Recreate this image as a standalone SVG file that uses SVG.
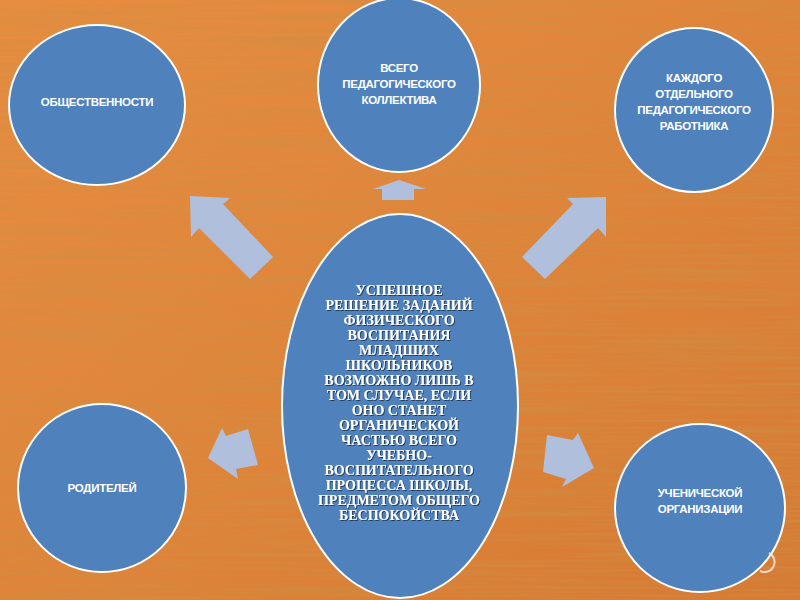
<svg xmlns="http://www.w3.org/2000/svg" width="800" height="600" viewBox="0 0 800 600">
<defs>
<linearGradient id="wood" x1="0" y1="0" x2="1" y2="1">
<stop offset="0" stop-color="#e88d40"/>
<stop offset="0.5" stop-color="#e0843a"/>
<stop offset="1" stop-color="#d67a34"/>
</linearGradient>
<filter id="grain" x="0" y="0" width="100%" height="100%">
<feTurbulence type="fractalNoise" baseFrequency="0.005 0.3" numOctaves="3" seed="4" result="n"/>
<feColorMatrix in="n" type="matrix" values="0 0 0 0 0.6  0 0 0 0 0.28  0 0 0 0 0.06  0 0 0 1.8 -0.7"/>
</filter>
<filter id="ts" x="-10%" y="-10%" width="120%" height="120%">
<feDropShadow dx="1" dy="1" stdDeviation="0.6" flood-color="#1a2a40" flood-opacity="0.8"/>
</filter>
<style>
.node{fill:#4f81bd;stroke:#ffffff;stroke-width:2}
.lbl{font-family:"Liberation Sans",Arial,sans-serif;font-weight:bold;font-size:11.5px;fill:#ffffff;text-anchor:middle;letter-spacing:-0.3px}
.main{font-family:"Liberation Serif","Times New Roman",serif;font-weight:bold;font-size:14px;fill:#ffffff;text-anchor:middle}
.arr{fill:#b0c0dc}
</style>
</defs>
<rect width="800" height="600" fill="url(#wood)"/>
<rect width="800" height="600" filter="url(#grain)" opacity="0.8"/>

<g id="connectors">
<polygon class="arr" points="190,196 230,198 223,204 273,257 250,279 199,228 191,237"/>
<polygon class="arr" points="399,180 373,189 382,189 382,200 414,200 414,189 426,189"/>
<polygon class="arr" points="606,197 567,198 573,204 522,257 545,279 598,228 606,237"/>
<polygon class="arr" points="208,458 222,428 226,436 248,429 258,465 236,469 238,479"/>
<polygon class="arr" points="594,468 578,433 573,440 547,435 543,472 566,479 562,487"/>
</g>

<g id="node-obshchestvennosti">
<ellipse class="node" cx="97" cy="105" rx="88" ry="80"/>
<text class="lbl" x="97" y="106">ОБЩЕСТВЕННОСТИ</text>
</g>

<g id="node-pedkollektiv">
<ellipse class="node" cx="399" cy="85" rx="81" ry="87"/>
<text class="lbl" x="399" y="72">ВСЕГО</text>
<text class="lbl" x="399" y="88">ПЕДАГОГИЧЕСКОГО</text>
<text class="lbl" x="399" y="104">КОЛЛЕКТИВА</text>
</g>

<g id="node-rabotnik">
<ellipse class="node" cx="694" cy="110" rx="79" ry="82"/>
<text class="lbl" x="694" y="82">КАЖДОГО</text>
<text class="lbl" x="694" y="98">ОТДЕЛЬНОГО</text>
<text class="lbl" x="694" y="114">ПЕДАГОГИЧЕСКОГО</text>
<text class="lbl" x="694" y="130">РАБОТНИКА</text>
</g>

<g id="node-roditeli">
<ellipse class="node" cx="102" cy="488" rx="84" ry="84"/>
<text class="lbl" x="102" y="492">РОДИТЕЛЕЙ</text>
</g>

<g id="node-uchenicheskaya">
<ellipse class="node" cx="700" cy="508" rx="85" ry="84"/>
<text class="lbl" x="700" y="497">УЧЕНИЧЕСКОЙ</text>
<text class="lbl" x="700" y="513">ОРГАНИЗАЦИИ</text>
</g>

<g id="node-center">
<ellipse class="node" cx="400" cy="406" rx="118" ry="192"/>
<g filter="url(#ts)">
<text class="main" x="399" y="295">УСПЕШНОЕ</text>
<text class="main" x="399" y="310">РЕШЕНИЕ ЗАДАНИЙ</text>
<text class="main" x="399" y="325">ФИЗИЧЕСКОГО</text>
<text class="main" x="399" y="340">ВОСПИТАНИЯ</text>
<text class="main" x="399" y="355">МЛАДШИХ</text>
<text class="main" x="399" y="370">ШКОЛЬНИКОВ</text>
<text class="main" x="399" y="385">ВОЗМОЖНО ЛИШЬ В</text>
<text class="main" x="399" y="400">ТОМ СЛУЧАЕ, ЕСЛИ</text>
<text class="main" x="399" y="415">ОНО СТАНЕТ</text>
<text class="main" x="399" y="430">ОРГАНИЧЕСКОЙ</text>
<text class="main" x="399" y="445">ЧАСТЬЮ ВСЕГО</text>
<text class="main" x="399" y="460">УЧЕБНО-</text>
<text class="main" x="399" y="475">ВОСПИТАТЕЛЬНОГО</text>
<text class="main" x="399" y="490">ПРОЦЕССА ШКОЛЫ,</text>
<text class="main" x="399" y="505">ПРЕДМЕТОМ ОБЩЕГО</text>
<text class="main" x="399" y="520">БЕСПОКОЙСТВА</text>
</g>
</g>

<path d="M769,553 A9,9 0 0 1 760,571" fill="none" stroke="#f4e6d8" stroke-width="2" opacity="0.85"/>
</svg>
